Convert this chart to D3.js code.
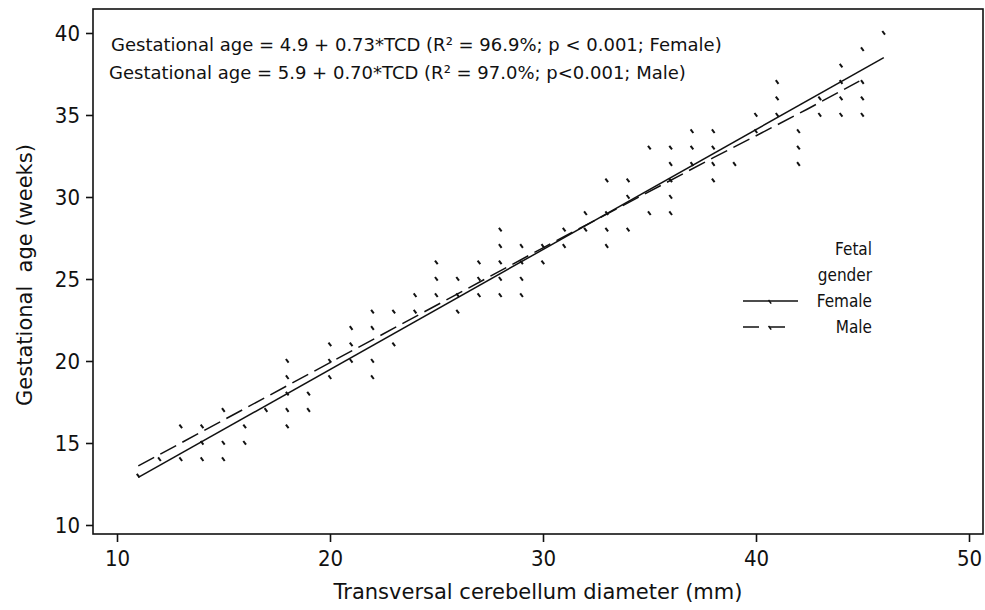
<!DOCTYPE html>
<html>
<head>
<meta charset="utf-8">
<script src="https://cdn.jsdelivr.net/npm/d3@7.9.0/dist/d3.min.js"></script>
<style>
  body { margin: 0; background: #fff; }
  svg { display: block; font-family: "DejaVu Sans Condensed", "DejaVu Sans", sans-serif; }
</style>
</head>
<body>
<svg id="chart" width="985" height="610"></svg>
<script>
// observed points: transversal cerebellum diameter (mm) and gestational age (weeks)
const tcd = [11, 12, 13, 13, 14, 14, 14, 15, 15, 15, 16, 16, 17,
  18, 18, 18, 18, 18, 19, 19, 20, 20, 20, 21, 21, 21, 22, 22, 22, 22,
  23, 23, 24, 24, 25, 25, 25, 26, 26, 26, 27, 27, 27,
  28, 28, 28, 28, 28, 29, 29, 29, 29, 30, 30, 31, 31, 32, 32,
  33, 33, 33, 33, 34, 34, 34, 35, 35, 36, 36, 36, 36, 36,
  37, 37, 37, 38, 38, 38, 38, 39, 40, 40, 41, 41, 41, 42, 42, 42,
  43, 43, 44, 44, 44, 44, 45, 45, 45, 45, 46];
const ga = [13, 14, 16, 14, 16, 15, 14, 17, 15, 14, 16, 15, 17,
  20, 19, 18, 17, 16, 18, 17, 21, 20, 19, 22, 21, 20, 23, 22, 20, 19,
  23, 21, 24, 23, 26, 25, 24, 25, 24, 23, 26, 25, 24,
  28, 27, 26, 25, 24, 27, 26, 25, 24, 27, 26, 28, 27, 29, 28,
  31, 29, 28, 27, 31, 30, 28, 33, 29, 33, 32, 31, 30, 29,
  34, 33, 32, 34, 33, 32, 31, 32, 35, 34, 37, 36, 35, 34, 33, 32,
  36, 35, 38, 37, 36, 35, 39, 37, 36, 35, 40];

// fitted lines
const femaleFitX = [11, 46];
const femaleFitY = [12.9, 38.5];
const maleFitX = [11, 20, 30, 38, 40.4, 42.4, 44.85];
const maleFitY = [13.6, 19.9, 26.9, 32.4, 34.0, 35.35, 37.07];

const xTicks = [10, 20, 30, 40, 50];
const yTicks = [10, 15, 20, 25, 30, 35, 40];
const equations = [
  "Gestational age = 4.9 + 0.73*TCD (R\u00b2 = 96.9%; p < 0.001; Female)",
  "Gestational age = 5.9 + 0.70*TCD (R\u00b2 = 97.0%; p<0.001; Male)"
];
const legendTitle = ["Fetal", "gender"];
const genders = ["Female", "Male"];

const svg = d3.select("#chart");
const frame = { left: 93, right: 983, top: 9, bottom: 534 };

const x = d3.scaleLinear().domain([8.873, 50.657]).range([frame.left, frame.right]);
const y = d3.scaleLinear().domain([9.451, 41.463]).range([frame.bottom, frame.top]);
const ink = "#111";

// axes
const yAxis = svg.append("g")
  .attr("transform", `translate(${frame.left},0)`)
  .call(d3.axisLeft(y).tickValues(yTicks).tickSize(7).tickPadding(6));
const xAxis = svg.append("g")
  .attr("transform", `translate(0,${frame.bottom})`)
  .call(d3.axisBottom(x).tickValues(xTicks).tickSize(8).tickPadding(8));

[xAxis, yAxis].forEach(a => {
  a.select(".domain").remove();
  a.selectAll(".tick line").attr("stroke", ink).attr("stroke-width", 1.6);
  a.selectAll(".tick text")
    .attr("fill", ink)
    .style("font-size", "22px")
    .style("font-family", '"DejaVu Sans Condensed", "DejaVu Sans", sans-serif');
});

// plot frame
svg.append("rect")
  .attr("x", frame.left).attr("y", frame.top)
  .attr("width", frame.right - frame.left)
  .attr("height", frame.bottom - frame.top)
  .attr("fill", "none").attr("stroke", ink).attr("stroke-width", 1.6);

// scatter marks (small slanted ticks)
const mark = "M-1.5,-2L1.2,1.6";
svg.append("g").selectAll("path")
  .data(tcd.map((d, i) => [d, ga[i]]))
  .join("path")
  .attr("transform", d => `translate(${x(d[0])},${y(d[1])})`)
  .attr("d", mark)
  .attr("stroke", ink).attr("stroke-width", 2).attr("fill", "none");

// fitted lines
const line = d3.line().x(d => x(d[0])).y(d => y(d[1]));
svg.append("path")
  .attr("d", line(femaleFitX.map((d, i) => [d, femaleFitY[i]])))
  .attr("fill", "none").attr("stroke", ink).attr("stroke-width", 1.5);
svg.append("path")
  .attr("d", line(maleFitX.map((d, i) => [d, maleFitY[i]])))
  .attr("fill", "none").attr("stroke", ink).attr("stroke-width", 1.5)
  .attr("stroke-dasharray", "18,7");

// regression equations
svg.append("g").selectAll("text")
  .data(equations)
  .join("text")
  .attr("x", (d, i) => i === 0 ? 111 : 109)
  .attr("y", (d, i) => 51 + i * 28)
  .attr("fill", ink)
  .style("font-size", "18px")
  .style("font-family", '"DejaVu Sans", sans-serif')
  .text(d => d);

// legend
const legend = svg.append("g").attr("fill", ink).style("font-size", "17px");
legendTitle.forEach((t, i) => {
  legend.append("text")
    .attr("x", 872).attr("y", 255 + i * 26)
    .attr("text-anchor", "end")
    .text(t);
});
genders.forEach((g, i) => {
  const yy = 301 + i * 26;
  legend.append("text")
    .attr("x", 872).attr("y", yy + 6)
    .attr("text-anchor", "end")
    .text(g);
  legend.append("line")
    .attr("x1", 743).attr("x2", i === 0 ? 798 : 792)
    .attr("y1", yy).attr("y2", yy)
    .attr("stroke", ink).attr("stroke-width", 1.5)
    .attr("stroke-dasharray", i === 0 ? null : "16,10");
  legend.append("path")
    .attr("transform", `translate(770,${yy + 1})`)
    .attr("d", mark)
    .attr("stroke", ink).attr("stroke-width", 1.5).attr("fill", "none");
});

// axis titles
svg.append("text")
  .attr("x", 538).attr("y", 599)
  .attr("text-anchor", "middle")
  .attr("fill", ink)
  .style("font-size", "21px")
  .style("font-family", '"DejaVu Sans", sans-serif')
  .text("Transversal cerebellum diameter (mm)");

svg.append("text")
  .attr("transform", "translate(32,275) rotate(-90)")
  .attr("text-anchor", "middle")
  .attr("fill", ink)
  .style("font-size", "21px")
  .style("font-family", '"DejaVu Sans", sans-serif')
  .style("white-space", "pre")
  .text("Gestational  age (weeks)");
</script>
</body>
</html>
